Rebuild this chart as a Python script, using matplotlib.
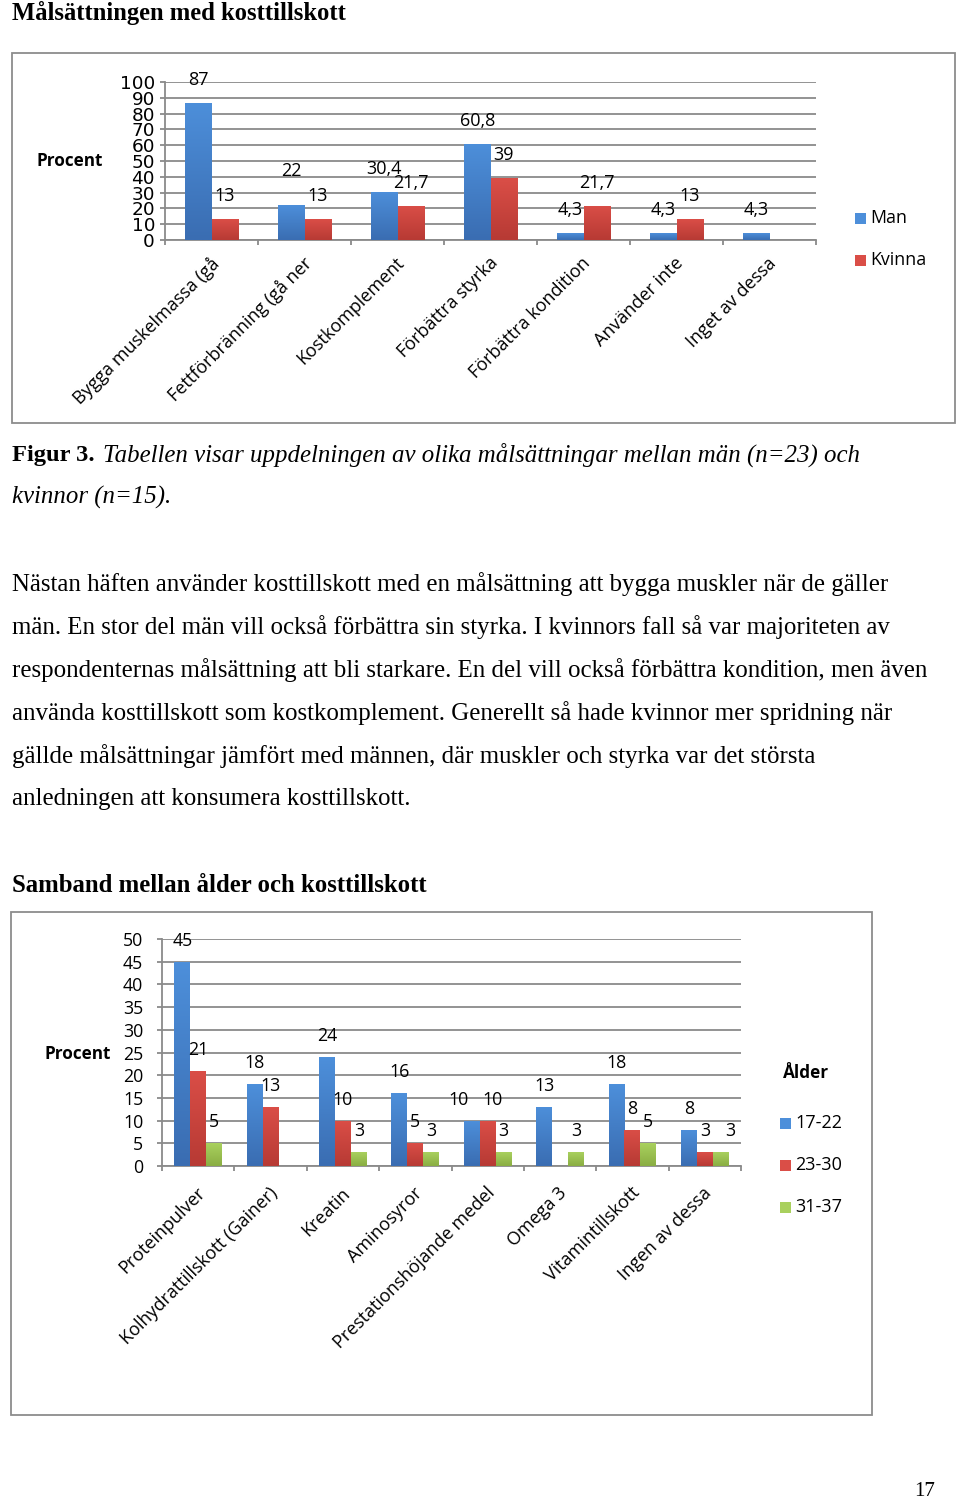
import numpy as np
import matplotlib
matplotlib.use("Agg")
import matplotlib.pyplot as plt
from matplotlib.patches import Rectangle
from matplotlib.colors import LinearSegmentedColormap

# ---------------- data ----------------
goals = ["Bygga muskelmassa (gå", "Fettförbränning (gå ner", "Kostkomplement",
         "Förbättra styrka", "Förbättra kondition", "Använder inte", "Inget av dessa"]
man = [87, 22, 30.4, 60.8, 4.3, 4.3, 4.3]
kvinna = [13, 13, 21.7, 39, 21.7, 13, np.nan]
goal_series = ["Man", "Kvinna"]
goal_yticks = list(range(0, 101, 10))

supplements = ["Proteinpulver", "Kolhydrattillskott (Gainer)", "Kreatin", "Aminosyror",
               "Prestationshöjande medel", "Omega 3", "Vitamintillskott", "Ingen av dessa"]
age_17_22 = [45, 18, 24, 16, 10, 13, 18, 8]
age_23_30 = [21, 13, 10, 5, 10, np.nan, 8, 3]
age_31_37 = [5, np.nan, 3, 3, 3, 3, 5, 3]
age_series = ["17-22", "23-30", "31-37"]
age_yticks = list(range(0, 51, 5))

title1 = "Målsättningen med kosttillskott"
title2 = "Samband mellan ålder och kosttillskott"
caption_bold = "Figur 3."
caption_it1 = "Tabellen visar uppdelningen av olika målsättningar mellan män (n=23) och"
caption_it2 = "kvinnor (n=15)."
body = [
    "Nästan häften använder kosttillskott med en målsättning att bygga muskler när de gäller",
    "män. En stor del män vill också förbättra sin styrka. I kvinnors fall så var majoriteten av",
    "respondenternas målsättning att bli starkare. En del vill också förbättra kondition, men även",
    "använda kosttillskott som kostkomplement. Generellt så hade kvinnor mer spridning när",
    "gällde målsättningar jämfört med männen, där muskler och styrka var det största",
    "anledningen att konsumera kosttillskott.",
]
page_no = "17"

# ---------------- style ----------------
BLUE = ("#4D8FDA", "#3A6DB2")
RED = ("#DA4E47", "#B73A34")
GREEN = ("#A9D05E", "#8AAE43")
GRID = "#8A8A8A"
SANS = ["Open Sans", "DejaVu Sans"]
SERIF = ["Liberation Serif", "DejaVu Serif"]

# label nudges in pixels (series index, category index) -> (dx, dy up)
nudge1 = {(0, 1): (0, 11)}
nudge2 = {(0, 4): (-13, 0), (1, 4): (5, 0), (2, 7): (10, 0)}

W, H = 960, 1498
fig = plt.figure(figsize=(W / 100, H / 100), dpi=100)
PT = 0.72  # points per pixel at dpi 100


def fx(x):
    return x / W


def fy(y):
    return 1 - y / H


def page_box(l, t, r, b):
    fig.patches.append(Rectangle((fx(l), fy(b)), fx(r - l), (b - t) / H,
                                 transform=fig.transFigure, fill=False,
                                 edgecolor="#8C8C8C", linewidth=1.3))


def grad_bars(ax, xs, vals, width, colors):
    top, bot = colors
    cmap = LinearSegmentedColormap.from_list("g", [bot, top])
    g = np.linspace(0, 1, 64).reshape(-1, 1)
    h = np.nan_to_num(np.asarray(vals, dtype=float))
    bars = ax.bar(xs, h, width, color=top, linewidth=0, zorder=3)
    for rect, v in zip(bars, h):
        if v <= 0:
            rect.set_visible(False)
            continue
        x0 = rect.get_x()
        im = ax.imshow(g, extent=(x0, x0 + width, 0, v), origin="lower", cmap=cmap,
                       aspect="auto", zorder=3.5, interpolation="bilinear")
        im.set_clip_path(rect)
    return bars


def bar_chart(box, cats, series, colors, yticks, width, label_off, tick_font,
              tick_fs, tick_pad, label_fs, cat_fs, cat_off, nudge):
    l, t, r, b = box
    ax = fig.add_axes([fx(l), fy(b), fx(r - l), (b - t) / H])
    n = len(series)
    x = np.arange(len(cats))
    for i, (vals, col) in enumerate(zip(series, colors)):
        off = (i - (n - 1) / 2) * width
        grad_bars(ax, x + off, vals, width, col)
        for j, (xi, v) in enumerate(zip(x + off, vals)):
            if np.isnan(v):
                continue
            dx, dy = nudge.get((i, j), (0, 0))
            ax.annotate(f"{v:g}".replace(".", ","), xy=(xi, v),
                        xytext=(dx * PT, (label_off + dy) * PT),
                        textcoords="offset points", ha="center", va="center",
                        fontsize=label_fs, family=SANS, zorder=5, annotation_clip=False)
    ax.set_xlim(-0.5, len(cats) - 0.5)
    ax.set_ylim(yticks[0], yticks[-1])
    ax.set_yticks(yticks)
    ax.set_yticklabels([str(v) for v in yticks], family=tick_font, fontsize=tick_fs)
    ax.set_xticks(np.arange(len(cats) + 1) - 0.5)
    ax.set_xticklabels([])
    for s in ("top", "right"):
        ax.spines[s].set_visible(False)
    for s in ("left", "bottom"):
        ax.spines[s].set_color(GRID)
        ax.spines[s].set_linewidth(1.3)
    ax.tick_params(axis="both", direction="out", length=3.6, width=1.3, color=GRID)
    ax.tick_params(axis="y", pad=tick_pad)
    ax.yaxis.grid(True, color=GRID, linewidth=1.3, zorder=0)
    ax.set_axisbelow(True)
    ax.patch.set_alpha(0)
    for i, c in enumerate(cats):
        ax.annotate(c, xy=(i, 0), xycoords=("data", "axes fraction"),
                    xytext=(cat_off[0] * PT, -cat_off[1] * PT), textcoords="offset points",
                    rotation=45, rotation_mode="anchor", ha="right", va="top",
                    fontsize=cat_fs, family=SANS, annotation_clip=False)
    return ax


def legend_items(x, ys, names, colors, fs):
    for y, nm, col in zip(ys, names, colors):
        fig.patches.append(Rectangle((fx(x - 5.5), fy(y + 5.5)), 11 / W, 11 / H,
                                     transform=fig.transFigure, facecolor=col[0],
                                     edgecolor="none"))
        fig.text(fx(x + 10), fy(y), nm, ha="left", va="center", fontsize=fs, family=SANS)


# ---------------- chart 1 ----------------
page_box(12, 53, 955, 423)
bar_chart((165, 82, 816, 240), goals, [man, kvinna], [BLUE, RED], goal_yticks,
          0.285, 23, ["DejaVu Sans"], 13.3, 3.6, 13, 13, (-2, 14), nudge1)
fig.text(fx(37), fy(161), "Procent", ha="left", va="center", fontsize=12.3,
         fontweight="bold", family=SANS)
legend_items(860.5, [218, 260], goal_series, [BLUE, RED], 12.8)

# ---------------- chart 2 ----------------
page_box(11, 912, 872, 1415)
bar_chart((162, 939, 741, 1166), supplements, [age_17_22, age_23_30, age_31_37],
          [BLUE, RED, GREEN], age_yticks, 0.22, 21, SANS, 12.8, 10, 12.8, 13, (-2, 18),
          nudge2)
fig.text(fx(45), fy(1054), "Procent", ha="left", va="center", fontsize=12.3,
         fontweight="bold", family=SANS)
fig.text(fx(783), fy(1073), "Ålder", ha="left", va="center", fontsize=12.3,
         fontweight="bold", family=SANS)
legend_items(785.5, [1123, 1165, 1207], age_series, [BLUE, RED, GREEN], 13)

# ---------------- page text ----------------
fig.canvas.draw()
rend = fig.canvas.get_renderer()


def width_px(t):
    return t.get_window_extent(renderer=rend).width


def fitted(x, y, s, target, **kw):
    t = fig.text(fx(x), fy(y), s, ha="left", va="center", fontsize=16, **kw)
    w = width_px(t)
    t.set_fontsize(16 * target / w)
    return t


fitted(12, 13, title1, 336, family=SERIF, fontweight="bold")
fitted(12, 885, title2, 416, family=SERIF, fontweight="bold")

tb = fitted(12, 455, caption_bold, 83, family=SERIF, fontweight="bold")
ti = fitted(103, 455, caption_it1, 757, family=SERIF, style="italic")
fig.text(fx(12), fy(497), caption_it2, ha="left", va="center",
         fontsize=ti.get_fontsize(), family=SERIF, style="italic")

b0 = fitted(12, 584, body[0], 875, family=SERIF)
bfs = b0.get_fontsize()
for k, line in enumerate(body[1:], start=1):
    fig.text(fx(12), fy(584 + 43 * k), line, ha="left", va="center", fontsize=bfs,
             family=SERIF)

fig.text(fx(925), fy(1491), page_no, ha="center", va="center", fontsize=15, family=SERIF)

fig.savefig("out.png", dpi=100)
